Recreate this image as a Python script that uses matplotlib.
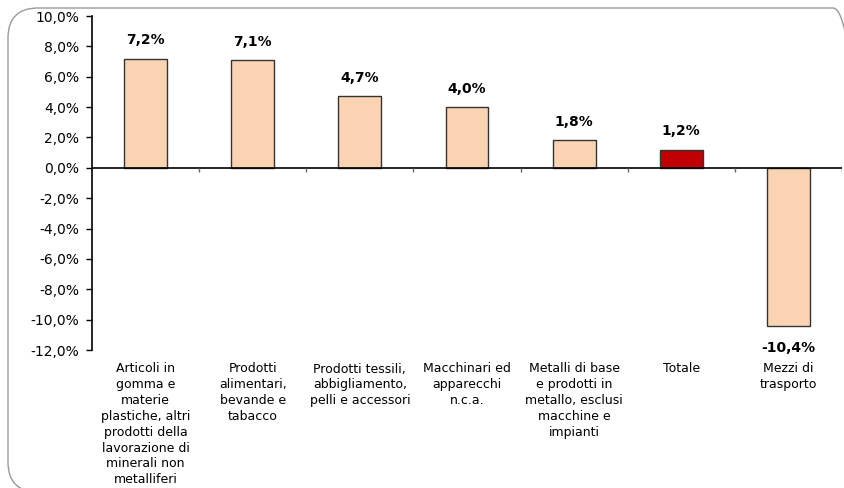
import matplotlib.pyplot as plt
from matplotlib.patches import FancyBboxPatch
from matplotlib.ticker import FuncFormatter

# data
categories = [
    "Articoli in\ngomma e\nmaterie\nplastiche, altri\nprodotti della\nlavorazione di\nminerali non\nmetalliferi",
    "Prodotti\nalimentari,\nbevande e\ntabacco",
    "Prodotti tessili,\nabbigliamento,\npelli e accessori",
    "Macchinari ed\napparecchi\nn.c.a.",
    "Metalli di base\ne prodotti in\nmetallo, esclusi\nmacchine e\nimpianti",
    "Totale",
    "Mezzi di\ntrasporto",
]
values = [7.2, 7.1, 4.7, 4.0, 1.8, 1.2, -10.4]
highlight = "Totale"

peach = "#FAD3B2"
dark_red = "#C00000"

plt.rcParams['font.family'] = ['DejaVu Sans']

fig = plt.figure(figsize=(8.45, 4.88), dpi=100)
ax = fig.add_axes([92 / 845, 1 - 350 / 488, 750 / 845, 334 / 488])

# rounded frame around the chart (inches), right and bottom run off the canvas
frame = FancyBboxPatch((0.08, -0.04), 8.55, 4.84,
                       boxstyle="round,pad=0,rounding_size=0.3",
                       transform=fig.dpi_scale_trans, fill=False,
                       edgecolor="#9A9A9A", linewidth=1.0)
fig.patches.append(frame)

x = list(range(len(categories)))
colors = [dark_red if c == highlight else peach for c in categories]
ax.bar(x, values, width=0.4, color=colors, edgecolor="#333333", linewidth=1.0, zorder=3)

for xi, v in zip(x, values):
    label = ("%.1f%%" % v).replace(".", ",")
    if v >= 0:
        ax.annotate(label, (xi, v), xytext=(0, 8), textcoords="offset points",
                    ha="center", va="bottom", fontsize=10, fontweight="bold")
    else:
        ax.annotate(label, (xi, v), xytext=(0, -11), textcoords="offset points",
                    ha="center", va="top", fontsize=10, fontweight="bold")

ax.set_xlim(-0.5, len(categories) - 0.5)
ax.set_ylim(-12, 10)
ax.set_yticks(range(-12, 11, 2))
ax.yaxis.set_major_formatter(FuncFormatter(lambda v, p: ("%.1f%%" % v).replace(".", ",")))
ax.tick_params(axis="y", labelsize=10, length=4, width=1, pad=5, colors="black")

ax.set_xticks(x)
ax.set_xticklabels(categories, fontsize=9, linespacing=1.28, va="top")
ax.tick_params(axis="x", length=0, pad=9)

for s in ["top", "right", "bottom"]:
    ax.spines[s].set_visible(False)
ax.spines["left"].set_linewidth(1.2)

# zero line with category boundary ticks
ax.axhline(0, color="black", linewidth=1.2, zorder=4)
bounds = [i + 0.5 for i in x]
ax.vlines(bounds, -0.3, 0, color="#666666", linewidth=1, zorder=4)

fig.savefig("out.png", dpi=100)
